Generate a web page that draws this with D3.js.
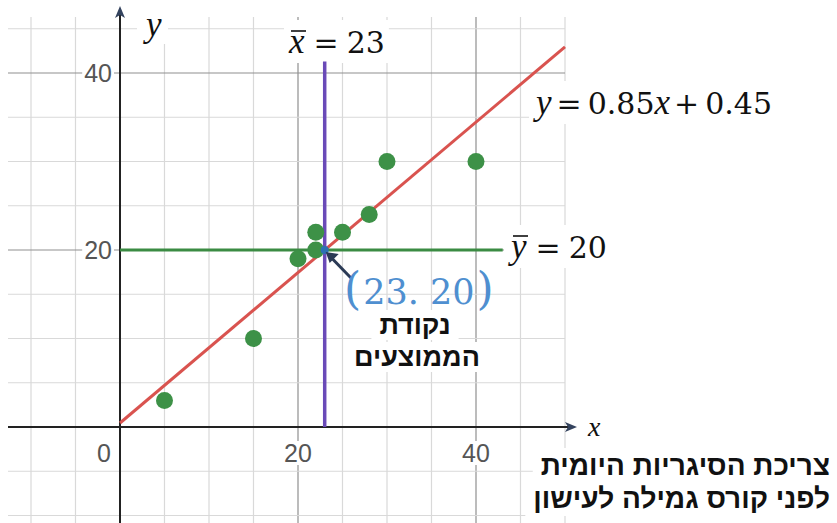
<!DOCTYPE html>
<html>
<head>
<meta charset="utf-8">
<script src="https://cdn.jsdelivr.net/npm/d3@7"></script>
<style>
  body { margin: 0; background: #fff; }
  svg { display: block; }
  .tick-label { font-family: "Liberation Sans", Arial, sans-serif; font-size: 25px; fill: #555; }
  .math { font-family: "DejaVu Serif", serif; font-size: 30px; fill: #111; }
  .var { font-family: "Liberation Serif", "Times New Roman", serif; font-style: italic; font-size: 35px; }
  .heb { font-family: "Liberation Sans", Arial, sans-serif; font-weight: bold; fill: #111; }
</style>
</head>
<body>
<svg id="chart" width="837" height="523"></svg>
<script>
// data: daily cigarettes before / after the course
const xValues = [5, 15, 20, 22, 22, 25, 28, 30, 40];
const yValues = [3, 10, 19, 22, 20, 22, 24, 30, 30];
const slope = 0.85;
const intercept = 0.45;
const xMean = 23;
const yMean = 20;
const gridStep = 5;
const xTickLabels = [0, 20, 40];
const yTickLabels = [20, 40];
const majorTicks = [20, 40];

const svg = d3.select("#chart");

// scales (origin at 120,427)
const x = d3.scaleLinear().domain([0, 50]).range([120, 565]);
const y = d3.scaleLinear().domain([0, 40]).range([427, 73]);

const xMinGrid = x.invert(8), xMaxGrid = 50;
const yMinGrid = y.invert(523), yMaxGrid = y.invert(17);

const gridXs = d3.range(-10, xMaxGrid + 0.1, gridStep);
const gridYs = d3.range(-10, yMaxGrid, gridStep);

// layers
const gGrid = svg.append("g");
const gMask = svg.append("g");
const gAxes = svg.append("g");
const gData = svg.append("g");
const gText = svg.append("g");

// grid
gGrid.selectAll("line.gx")
  .data(gridXs.filter(d => d !== 0))
  .enter().append("line")
  .attr("x1", d => x(d)).attr("x2", d => x(d))
  .attr("y1", y(yMaxGrid)).attr("y2", y(yMinGrid))
  .attr("stroke", d => majorTicks.includes(d) ? "#8f8f8f" : "#d9d9d9")
  .attr("stroke-width", 1.2);
gGrid.selectAll("line.gy")
  .data(gridYs.filter(d => d !== 0))
  .enter().append("line")
  .attr("x1", x(xMinGrid)).attr("x2", x(xMaxGrid))
  .attr("y1", d => y(d)).attr("y2", d => y(d))
  .attr("stroke", d => majorTicks.includes(d) ? "#8f8f8f" : "#d9d9d9")
  .attr("stroke-width", 1.2);

// white box behind a label, hides the grid like desmos does
function mask(sel, padX, padY) {
  const b = sel.node().getBBox();
  gMask.append("rect")
    .attr("x", b.x - padX).attr("y", b.y - padY)
    .attr("width", b.width + 2 * padX).attr("height", b.height + 2 * padY)
    .attr("fill", "#fff");
}

// axes
const axisColor = "#222";
const arrowColor = "#34435e";
gAxes.append("line")
  .attr("x1", x(xMinGrid)).attr("x2", 570)
  .attr("y1", y(0)).attr("y2", y(0))
  .attr("stroke", axisColor).attr("stroke-width", 2);
gAxes.append("line")
  .attr("x1", x(0)).attr("x2", x(0))
  .attr("y1", 523).attr("y2", 14)
  .attr("stroke", axisColor).attr("stroke-width", 2);
gAxes.append("path")
  .attr("d", `M577,${y(0)} L565,${y(0) - 5} L568,${y(0)} L565,${y(0) + 5} Z`)
  .attr("fill", arrowColor);
gAxes.append("path")
  .attr("d", `M${x(0)},6 L${x(0) - 5},18 L${x(0)},15 L${x(0) + 5},18 Z`)
  .attr("fill", arrowColor);

// tick labels
xTickLabels.forEach(d => {
  const t = gText.append("text")
    .attr("class", "tick-label")
    .attr("x", d === 0 ? x(0) - 16 : x(d))
    .attr("y", y(0) + 35)
    .attr("text-anchor", "middle")
    .text(d);
  mask(t, 1, -2);
});
yTickLabels.forEach(d => {
  const t = gText.append("text")
    .attr("class", "tick-label")
    .attr("x", x(0) - 8)
    .attr("y", y(d) + 9)
    .attr("text-anchor", "end")
    .text(d);
  mask(t, 2, -2);
});

// axis names
const yName = gText.append("text").attr("class", "var").attr("fill", "#111")
  .attr("x", 146).attr("y", 36).text("y");
mask(yName, 6, 0);
gText.append("text").attr("class", "var").attr("fill", "#111")
  .style("font-size", "28px")
  .attr("x", 588).attr("y", 436).text("x");

// regression line
gData.append("line")
  .attr("x1", x(0)).attr("y1", y(intercept))
  .attr("x2", x(50)).attr("y2", y(slope * 50 + intercept))
  .attr("stroke", "#d9534f").attr("stroke-width", 3);

// mean lines
gData.append("line")
  .attr("x1", x(0)).attr("x2", x(43))
  .attr("y1", y(yMean)).attr("y2", y(yMean))
  .attr("stroke", "#3b8b43").attr("stroke-width", 3);
gData.append("line")
  .attr("x1", x(xMean)).attr("x2", x(xMean))
  .attr("y1", y(0)).attr("y2", y(41.3))
  .attr("stroke", "#6a4ab8").attr("stroke-width", 3.5);

// points
gData.append("g").selectAll("circle")
  .data(xValues.map((d, i) => [d, yValues[i]]))
  .enter().append("circle")
  .attr("cx", d => x(d[0])).attr("cy", d => y(d[1]))
  .attr("r", 8.5)
  .attr("fill", "#3d9147");

// mean point
gData.append("circle")
  .attr("cx", x(xMean)).attr("cy", y(yMean))
  .attr("r", 4).attr("fill", "#2d70b3");

// arrow to mean point
gData.append("line")
  .attr("x1", 351).attr("y1", 278)
  .attr("x2", x(xMean) + 5).attr("y2", y(yMean) + 6)
  .attr("stroke", "#2b3a55").attr("stroke-width", 3);
gData.append("path")
  .attr("d", `M${x(xMean) + 1},${y(yMean) + 2} l13,2 l-9,9 Z`)
  .attr("fill", "#2b3a55");

// equation labels
const xbar = gText.append("text").attr("class", "math").attr("x", 289).attr("y", 53);
xbar.append("tspan").attr("class", "var").text("x");
xbar.append("tspan").attr("dx", 9).text("=");
xbar.append("tspan").attr("dx", 8).text(xMean);
mask(xbar, 4, 2);
gText.append("line").attr("x1", 291).attr("x2", 306).attr("y1", 31).attr("y2", 31)
  .attr("stroke", "#111").attr("stroke-width", 1.6);

const ybar = gText.append("text").attr("class", "math").attr("x", 511).attr("y", 258);
ybar.append("tspan").attr("class", "var").text("y");
ybar.append("tspan").attr("dx", 9).text("=");
ybar.append("tspan").attr("dx", 8).text(yMean);
mask(ybar, 4, 2);
gText.append("line").attr("x1", 513).attr("x2", 528).attr("y1", 236).attr("y2", 236)
  .attr("stroke", "#111").attr("stroke-width", 1.6);

const eq = gText.append("text").attr("class", "math").attr("x", 536).attr("y", 114);
eq.append("tspan").attr("class", "var").text("y");
eq.append("tspan").attr("dx", 5).text("=");
eq.append("tspan").attr("dx", 6).text(slope);
eq.append("tspan").attr("class", "var").text("x");
eq.append("tspan").attr("dx", 4).text("+");
eq.append("tspan").attr("dx", 6).text(intercept);
mask(eq, 4, 2);

// mean point coordinates
const coord = gText.append("text")
  .attr("x", 344).attr("y", 304)
  .attr("font-family", "'DejaVu Serif', serif")
  .attr("fill", "#4f8fd0");
coord.append("tspan").attr("font-size", 44).attr("font-weight", 200).text("(");
coord.append("tspan").attr("font-size", 35).attr("dx", 2).text(`${xMean}. ${yMean}`);
coord.append("tspan").attr("font-size", 44).attr("dx", 2).text(")");

// hebrew labels
const h1 = gText.append("text").attr("class", "heb").attr("font-size", 27)
  .attr("x", 415).attr("y", 334).attr("text-anchor", "middle").text("נקודת");
const h2 = gText.append("text").attr("class", "heb").attr("font-size", 27)
  .attr("x", 417).attr("y", 366).attr("text-anchor", "middle").text("הממוצעים");
mask(h1, 8, 0);
mask(h2, 8, 0);

const b1 = gText.append("text").attr("class", "heb").attr("font-size", 28)
  .attr("x", 830).attr("y", 475).attr("text-anchor", "end")
  .text("צריכת הסיגריות היומית");
const b2 = gText.append("text").attr("class", "heb").attr("font-size", 28)
  .attr("x", 830).attr("y", 508).attr("text-anchor", "end")
  .text("לפני קורס גמילה לעישון");
mask(b1, 8, 2);
mask(b2, 8, 2);
</script>
</body>
</html>
